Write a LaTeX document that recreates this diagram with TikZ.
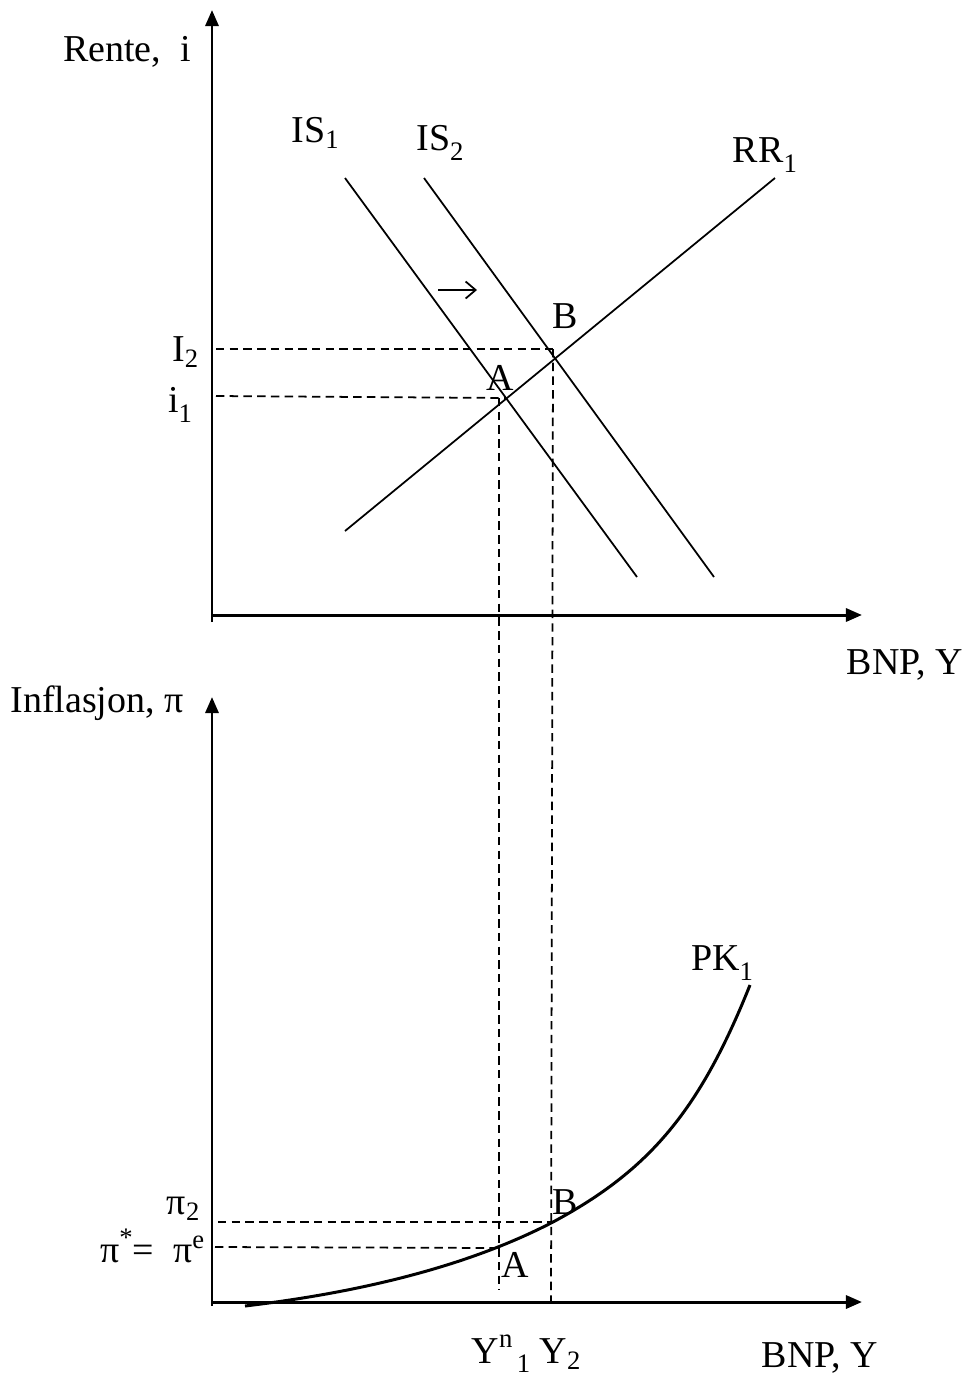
\documentclass[tikz,border=0pt]{standalone}
\usepackage{fontspec}
\setmainfont{Liberation Serif}
\usetikzlibrary{arrows.meta}
\newcommand{\lowsub}[1]{\raisebox{-0.55ex}{\fontsize{7.6}{8}\selectfont #1}}
\newcommand{\highsup}[1]{\raisebox{0.9ex}{\fontsize{7.6}{8}\selectfont #1}}

\begin{document}
\begin{tikzpicture}[x=0.01cm, y=-0.01cm,
    axis/.style={line width=0.85pt, -{Triangle[length=0.16cm, width=0.13cm]}},
    curve/.style={line width=0.5pt},
    helpline/.style={line width=0.5pt, dash pattern=on 2.4pt off 1.5pt},
    lbl/.style={inner sep=0pt, font=\fontsize{10.8}{13}\selectfont}]
    \useasboundingbox (0,0) rectangle (970,1378);

    % Upper panel: IS-RR
    \coordinate (o1) at (212,615);
    \draw[axis] (212,622) -- (212,10);
    \draw[axis] (o1) -- (862,615);
    \node[lbl] (rente) at (127,52) {Rente,\ \ i};
    \node[lbl] (bnp1) at (905,665) {BNP, Y};

    % IS and RR curves
    \draw[curve] (345,178) -- (637,577);
    \draw[curve] (424,178) -- (714,577);
    \draw[curve] (345,531) -- (775,178);
    \node[lbl] (is1) at (316,133) {IS\textsubscript{1}};
    \node[lbl] (is2) at (440,143) {IS\lowsub{2}};
    \node[lbl] (rr1) at (765,155) {RR\lowsub{1}};

    % shift arrow
    \coordinate (sh1) at (438,290);
    \coordinate (sh2) at (477,290);
    \draw[curve, -{Straight Barb[length=0.1cm, width=0.17cm]}] (sh1) -- (sh2);

    % Equilibria A and B
    \coordinate (A) at (506,398);
    \coordinate (B) at (553,349);
    \node[lbl] (la) at (500,378) {A};
    \node[lbl] (lb) at (565,316) {B};
    \node[lbl] (ltwo) at (186,352) {I\textsubscript{2}};
    \node[lbl] (lone) at (180,405) {i\lowsub{1}};
    \draw[helpline] (216,396) -- (A);
    \draw[helpline] (216,349) -- (B);

    % Lower panel: Phillips curve
    \coordinate (o2) at (212,1302);
    \draw[axis] (212,1306) -- (212,697);
    \draw[axis] (o2) -- (862,1302);
    \node[lbl] (infl) at (97,703) {Inflasjon, π};
    \node[lbl] (bnp2) at (820,1358) {BNP, Y};

    \draw[line width=0.85pt] (245,1306) .. controls (380,1290) and (480,1260) .. (553,1222)
        .. controls (650,1170) and (700,1110) .. (750,985);
    \node[lbl] (pk1) at (722,963) {PK\lowsub{1}};

    \coordinate (A2) at (499,1248);
    \coordinate (B2) at (551,1222);
    \node[lbl] (la2) at (515,1265) {A};
    \node[lbl] (lb2) at (565,1202) {B};
    \node[lbl] (pitwo) at (184,1209) {π\textsubscript{2}};
    \node[lbl] (pistar) at (153,1246) {π\highsup{*}=\ \ π\textsuperscript{e}};
    \draw[helpline] (218,1222) -- (B2);
    \draw[helpline] (215,1247) -- (A2);

    % vertical links between the panels
    \draw[helpline] (499,398) -- (499,1290);
    \draw[helpline] (553,349) -- (551,1305);
    \node[lbl] (ylab) at (527,1354) {Y\highsup{n}\lowsub{\,1} Y\textsubscript{2}};
\end{tikzpicture}
\end{document}
